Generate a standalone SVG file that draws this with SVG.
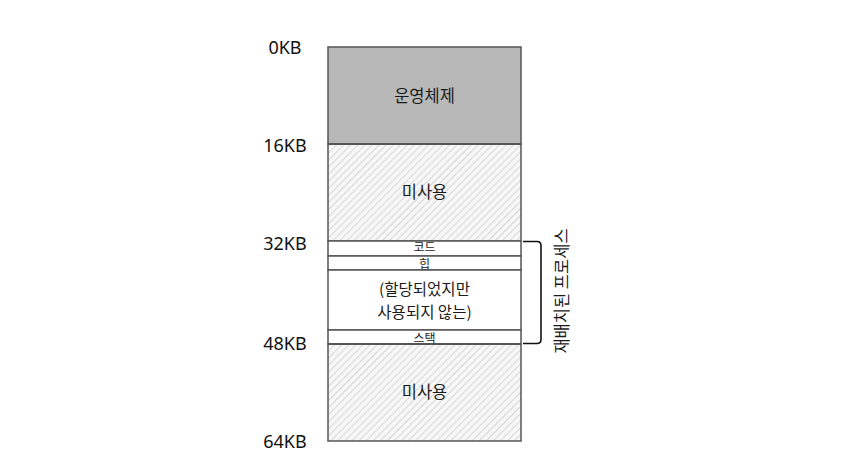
<svg xmlns="http://www.w3.org/2000/svg" width="853" height="475" viewBox="0 0 853 475">
<style>
.lbl{font-family:"Noto Sans","Noto Sans CJK KR",sans-serif;font-size:18px;fill:#111;text-anchor:middle}
.t{font-family:"Noto Sans CJK KR","Noto Sans",sans-serif;font-size:16.5px;fill:#1a1a1a;text-anchor:middle}
.m{font-family:"Noto Sans CJK KR","Noto Sans",sans-serif;font-size:15.5px;fill:#1a1a1a;text-anchor:middle}
.s{font-family:"Noto Sans CJK KR","Noto Sans",sans-serif;font-size:12px;fill:#1a1a1a;text-anchor:middle}
.seg{stroke:#555;stroke-width:1.5}
</style>
<defs>
<pattern id="hatch" width="5" height="5" patternUnits="userSpaceOnUse" patternTransform="rotate(45)">
<rect width="5" height="5" fill="#f7f7f7"/>
<line x1="0" y1="0" x2="0" y2="5" stroke="#c9c9c9" stroke-width="1.4"/>
</pattern>
</defs>
<rect width="853" height="475" fill="#fff"/>
<g id="labels">
<text class="lbl" x="285" y="54">0KB</text>
<text class="lbl" x="285" y="152">16KB</text>
<text class="lbl" x="285" y="250">32KB</text>
<text class="lbl" x="285" y="350">48KB</text>
<text class="lbl" x="285" y="448">64KB</text>
</g>
<g id="os"><rect class="seg" x="328" y="47" width="193" height="97" fill="#b8b8b8"/><text class="t" x="424.5" y="102">운영체제</text></g>
<g id="unused1"><rect class="seg" x="328" y="144" width="193" height="97" fill="url(#hatch)"/><text class="t" x="424.5" y="198">미사용</text></g>
<g id="code"><rect class="seg" x="328" y="241" width="193" height="15" fill="#fff"/><text class="s" x="424.5" y="251.5">코드</text></g>
<g id="heap"><rect class="seg" x="328" y="256" width="193" height="14" fill="#fff"/><text class="s" x="424.5" y="269">힙</text></g>
<g id="free"><rect class="seg" x="328" y="270" width="193" height="60" fill="#fff"/><text class="m" x="424.5" y="295">(할당되었지만</text><text class="m" x="424.5" y="317.5">사용되지 않는)</text></g>
<g id="stack"><rect class="seg" x="328" y="330" width="193" height="14" fill="#fff"/><text class="s" x="424.5" y="342.5">스택</text></g>
<g id="unused2"><rect class="seg" x="328" y="344" width="193" height="97" fill="url(#hatch)"/><text class="t" x="424.5" y="398">미사용</text></g>
<g id="boundaries"><line x1="328" y1="144" x2="521" y2="144" stroke="#555" stroke-width="2"/><line x1="328" y1="344" x2="521" y2="344" stroke="#555" stroke-width="2"/></g>
<g id="connectors">
<path d="M523 241.5 H537 Q541 241.5 541 245.5 V339.5 Q541 343.5 537 343.5 H523" fill="none" stroke="#111" stroke-width="1.6"/>
</g>
<g id="process-label"><text class="t" transform="translate(568 291) rotate(-90)" x="0" y="0">재배치된 프로세스</text></g>
</svg>
